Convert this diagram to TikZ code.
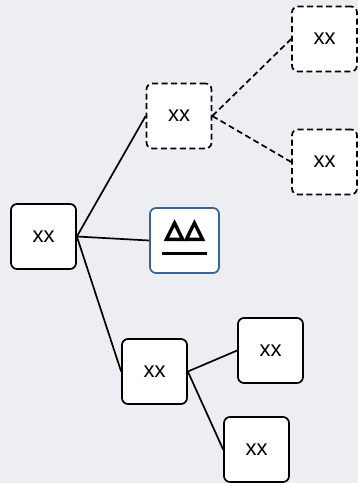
\documentclass[tikz,border=0pt]{standalone}
\usepackage{fontspec}
\setmainfont{Liberation Sans}
\newfontfamily\symfont[FakeBold=9]{DejaVu Sans}
\definecolor{bg}{HTML}{ECEEF2}
\definecolor{blueedge}{HTML}{3A6496}
\begin{document}
\begin{tikzpicture}[x=1pt,y=-1pt,
 box/.style={draw=black, line width=1.7pt, fill=white, rounded corners=6pt, minimum width=65pt, minimum height=65pt, inner sep=0pt, font=\fontsize{22}{28}\selectfont},
 dbox/.style={box, dash pattern=on 6pt off 3.5pt},
 bbox/.style={box, draw=blueedge, minimum width=69pt},
 link/.style={line width=1.7pt},
 dlink/.style={link, dash pattern=on 6pt off 3.5pt}]
\fill[bg] (0,0) rectangle (358,483);
\useasboundingbox (0,0) rectangle (358,483);
\node[box] (root) at (43.5,236.5) {xx};
\node[dbox] (dm) at (179,116) {xx};
\node[dbox] (t1) at (324.5,39) {xx};
\node[dbox] (t2) at (324.5,162) {xx};
\node[bbox] (sym) at (184.5,240.5) {\begin{tabular}{@{}c@{}}{\symfont\fontsize{24}{24}\selectfont △\kern1.5pt△}\\[-10pt]\rule{45pt}{3.4pt}\end{tabular}};
\node[box] (bm) at (154.5,371.5) {xx};
\node[box] (b1) at (270.5,350.5) {xx};
\node[box] (b2) at (256.5,449.5) {xx};
\draw[link] (root.east) -- (dm.west);
\draw[link] (root.east) -- (sym.west);
\draw[link] (root.east) -- (bm.west);
\draw[dlink] (dm.east) -- (t1.west);
\draw[dlink] (dm.east) -- (t2.west);
\draw[link] (bm.east) -- (b1.west);
\draw[link] (bm.east) -- (b2.west);
\end{tikzpicture}
\end{document}
